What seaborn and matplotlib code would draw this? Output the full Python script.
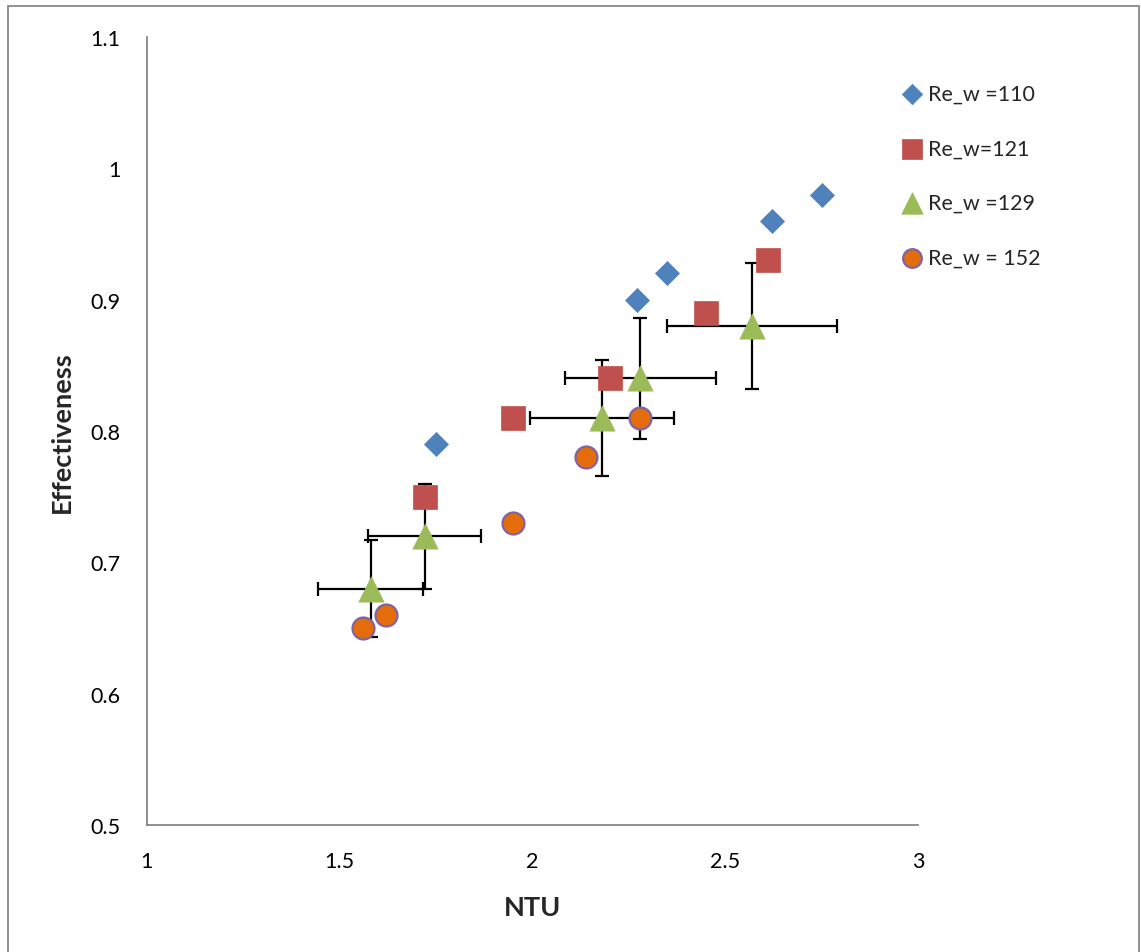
import numpy as np
import pandas as pd
import seaborn as sns
import matplotlib
matplotlib.use("Agg")
import matplotlib.pyplot as plt
from matplotlib.patches import Rectangle

# data
ntu_110 = [1.75, 2.27, 2.35, 2.62, 2.75]
eff_110 = [0.79, 0.90, 0.92, 0.96, 0.98]

ntu_121 = [1.72, 1.95, 2.20, 2.45, 2.61]
eff_121 = [0.75, 0.81, 0.84, 0.89, 0.93]

ntu_129 = [1.58, 1.72, 2.18, 2.28, 2.57]
eff_129 = [0.68, 0.72, 0.81, 0.84, 0.88]
xerr_129 = [0.136, 0.147, 0.187, 0.195, 0.22]
yerr_129 = [0.037, 0.040, 0.044, 0.046, 0.048]

ntu_152 = [1.56, 1.62, 1.95, 2.14, 2.28]
eff_152 = [0.65, 0.66, 0.73, 0.78, 0.81]

labels = ["Re_w =110", "Re_w=121", "Re_w =129", "Re_w = 152"]

sns.set_style("white")
plt.rcParams['font.family'] = ['Lato', 'DejaVu Sans']

fig = plt.figure(figsize=(11.41, 9.53), dpi=100)
ax = fig.add_axes([0.1288, 0.1333, 0.6758, 0.8268])

# triangle error bars behind the markers
ax.errorbar(ntu_129, eff_129, xerr=xerr_129, yerr=yerr_129, fmt='none',
            ecolor='black', elinewidth=1.6, capsize=5, capthick=1.6, zorder=1)

df110 = pd.DataFrame({"NTU": ntu_110, "Eff": eff_110})
df121 = pd.DataFrame({"NTU": ntu_121, "Eff": eff_121})
df129 = pd.DataFrame({"NTU": ntu_129, "Eff": eff_129})
df152 = pd.DataFrame({"NTU": ntu_152, "Eff": eff_152})

sns.scatterplot(data=df110, x="NTU", y="Eff", ax=ax, marker='D', s=150,
                color='#4F81BD', edgecolor='#4F81BD', linewidth=0.5,
                label=labels[0], zorder=3)
sns.scatterplot(data=df121, x="NTU", y="Eff", ax=ax, marker='s', s=300,
                color='#C0504D', edgecolor='#C0504D', linewidth=0.5,
                label=labels[1], zorder=3)
sns.scatterplot(data=df129, x="NTU", y="Eff", ax=ax, marker='^', s=330,
                color='#9BBB59', edgecolor='#9BBB59', linewidth=0.5,
                label=labels[2], zorder=3)
sns.scatterplot(data=df152, x="NTU", y="Eff", ax=ax, marker='o', s=250,
                color='#E46C0A', edgecolor='#8064A2', linewidth=1.6,
                label=labels[3], zorder=3)

ax.set_xlim(1, 3)
ax.set_ylim(0.5, 1.1)
ax.set_xticks([1, 1.5, 2, 2.5, 3])
ax.set_xticklabels(["1", "1.5", "2", "2.5", "3"])
ax.set_yticks([0.5, 0.6, 0.7, 0.8, 0.9, 1.0, 1.1])
ax.set_yticklabels(["0.5", "0.6", "0.7", "0.8", "0.9", "1", "1.1"])
ax.tick_params(axis='both', labelsize=15.5, colors='black', length=0)
ax.tick_params(axis='x', pad=19)
ax.tick_params(axis='y', pad=19)

for side in ['top', 'right']:
    ax.spines[side].set_visible(False)
for side in ['left', 'bottom']:
    ax.spines[side].set_color('#888888')
    ax.spines[side].set_linewidth(1.3)

ax.set_xlabel("NTU", fontsize=19.5, fontweight='bold', labelpad=17)
ax.set_ylabel("Effectiveness", fontsize=19.5, fontweight='bold', labelpad=12)

leg = ax.legend(loc='upper left', bbox_to_anchor=(0.95, 0.965), frameon=False,
                fontsize=15.5, labelspacing=1.6, handletextpad=0.15,
                markerscale=0.85, handlelength=1.2)

# outer chart border
fig.patches.append(Rectangle((0.007, -0.01), 0.991, 1.003, transform=fig.transFigure,
                             fill=False, edgecolor='#888888', linewidth=1.3))

fig.savefig("out.png", dpi=100)
